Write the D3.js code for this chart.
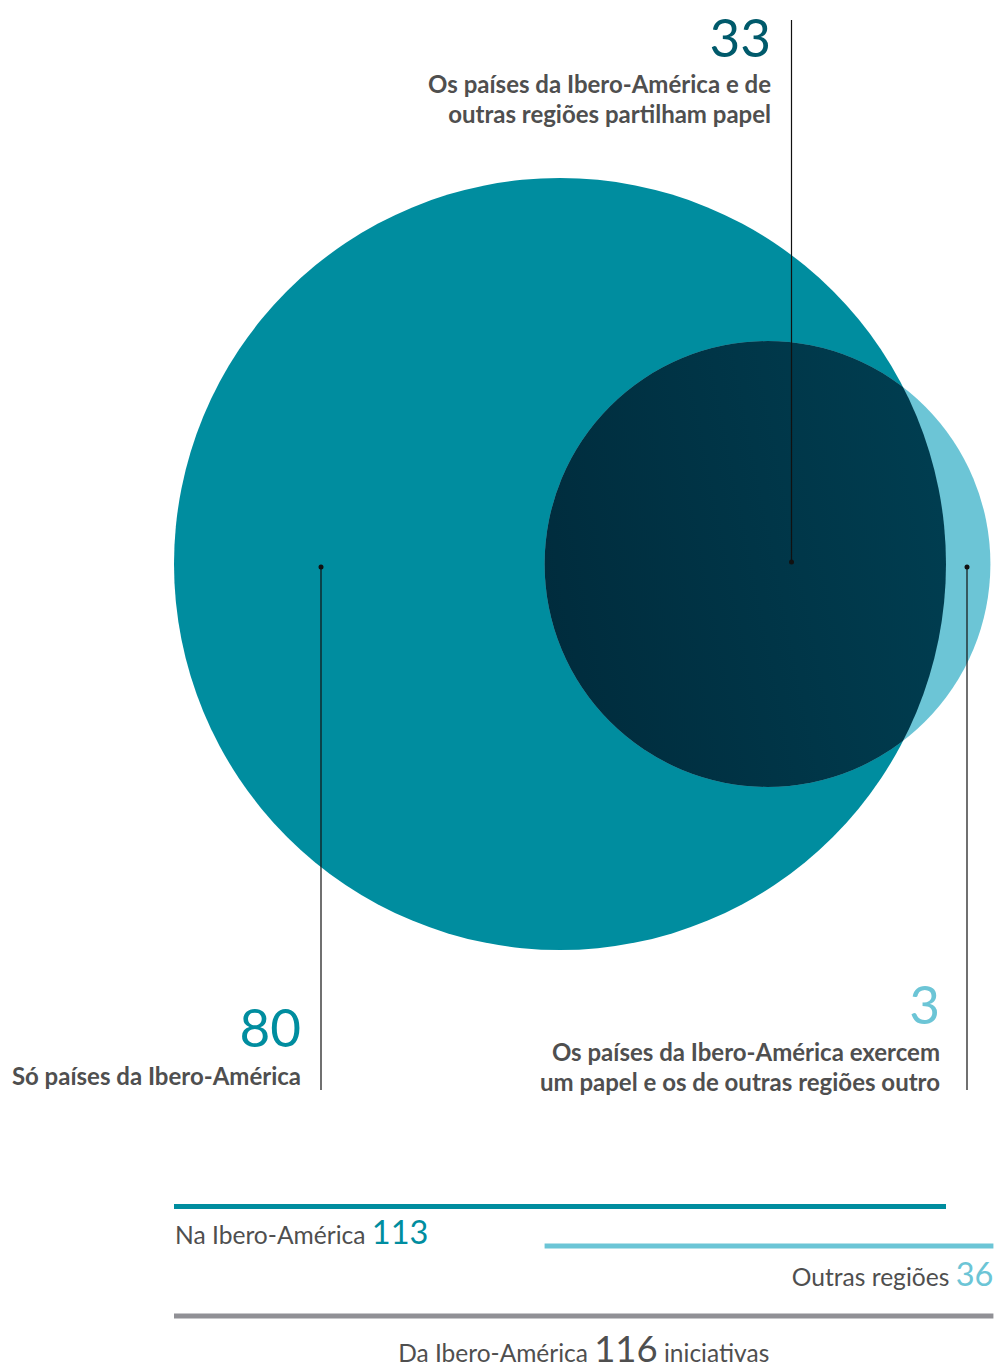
<!DOCTYPE html>
<html>
<head>
<meta charset="utf-8">
<script src="https://cdn.jsdelivr.net/npm/d3@7"></script>
<style>
  html, body { margin: 0; padding: 0; background: #fff; }
  svg { display: block; font-family: Lato, 'Open Sans', sans-serif; }
</style>
</head>
<body>
<div id="chart"></div>
<script>
// sets (circles) and their totals
const setNames = ['Na Ibero-América', 'Outras regiões'];
const setTotals = [113, 36];
const setColors = ['#008d9f', '#6cc5d6'];

// regions of the diagram
const regionValues = [80, 33, 3];
const regionLabels = [
  ['Só países da Ibero-América'],
  ['Os países da Ibero-América e de', 'outras regiões partilham papel'],
  ['Os países da Ibero-América exercem', 'um papel e os de outras regiões outro'],
];
const regionColors = ['#008d9f', '#005a6b', '#6cc5d6'];

const totalLabel = ['Da Ibero-América', 116, 'iniciativas'];

const width = 997;
const height = 1369;
const textGray = '#4f4f4f';

const svg = d3
  .select('#chart')
  .append('svg')
  .attr('width', width)
  .attr('height', height)
  .attr('viewBox', `0 0 ${width} ${height}`);

// circle radius from the set total
const r = d3.scalePow().exponent(0.48).domain([0, setTotals[0]]).range([0, 386]);

const cy = 564;
const circles = [
  { cx: 560, r: r(setTotals[0]) },
  { cx: 767.5, r: r(setTotals[1]) },
];

const defs = svg.append('defs');
defs
  .append('clipPath')
  .attr('id', 'bigClip')
  .append('circle')
  .attr('cx', circles[0].cx)
  .attr('cy', cy)
  .attr('r', circles[0].r);

const grad = defs
  .append('linearGradient')
  .attr('id', 'overlapGrad')
  .attr('x1', '0%')
  .attr('y1', '60%')
  .attr('x2', '100%')
  .attr('y2', '40%');
grad.append('stop').attr('offset', '0%').attr('stop-color', '#002c3d');
grad.append('stop').attr('offset', '100%').attr('stop-color', '#003f52');

// draw circles
svg
  .append('g')
  .selectAll('circle')
  .data(circles)
  .join('circle')
  .attr('cx', (d) => d.cx)
  .attr('cy', cy)
  .attr('r', (d) => d.r)
  .attr('fill', (d, i) => setColors[i]);

// overlap
svg
  .append('circle')
  .attr('cx', circles[1].cx)
  .attr('cy', cy)
  .attr('r', circles[1].r)
  .attr('clip-path', 'url(#bigClip)')
  .attr('fill', 'url(#overlapGrad)');

// annotations: leader line + dot + number + label
const annotations = [
  { x: 321, dotY: 567, lineEnd: 1090, textX: 301, numY: 1047, labelY: 1085 },
  { x: 791.5, dotY: 562, lineEnd: 20, textX: 771, numY: 57, labelY: 93 },
  { x: 967, dotY: 567, lineEnd: 1090, textX: 940, numY: 1024, labelY: 1061 },
];

annotations.forEach((a, i) => {
  const g = svg.append('g');
  g.append('line')
    .attr('x1', a.x)
    .attr('x2', a.x)
    .attr('y1', a.dotY)
    .attr('y2', a.lineEnd)
    .attr('stroke', '#111')
    .attr('stroke-width', 1.2);
  g.append('circle')
    .attr('cx', a.x)
    .attr('cy', a.dotY)
    .attr('r', 2.5)
    .attr('fill', '#111');

  g.append('text')
    .attr('x', a.textX)
    .attr('y', a.numY)
    .attr('text-anchor', 'end')
    .attr('fill', regionColors[i])
    .style('font-size', '53px')
    .style('font-weight', 400)
    .text(regionValues[i]);

  g.append('text')
    .attr('text-anchor', 'end')
    .attr('fill', textGray)
    .style('font-size', '24px')
    .style('font-weight', 700)
    .selectAll('tspan')
    .data(regionLabels[i])
    .join('tspan')
    .attr('x', a.textX)
    .attr('y', (d, j) => a.labelY + j * 29.5)
    .text((d) => d);
});

// bars below: extent of each circle and of the union
const bars = [
  { x1: circles[0].cx - circles[0].r, x2: circles[0].cx + circles[0].r, y: 1206.5, color: setColors[0] },
  { x1: circles[1].cx - circles[1].r, x2: circles[1].cx + circles[1].r + 3, y: 1246, color: setColors[1] },
  { x1: circles[0].cx - circles[0].r, x2: circles[1].cx + circles[1].r + 3, y: 1316, color: '#909095' },
];

svg
  .append('g')
  .selectAll('line')
  .data(bars)
  .join('line')
  .attr('x1', (d) => d.x1)
  .attr('x2', (d) => d.x2)
  .attr('y1', (d) => d.y)
  .attr('y2', (d) => d.y)
  .attr('stroke', (d) => d.color)
  .attr('stroke-width', 5);

// bar labels
const t1 = svg
  .append('text')
  .attr('x', bars[0].x1 + 1)
  .attr('y', 1244)
  .attr('fill', textGray)
  .style('font-size', '24.6px');
t1.append('tspan').text(setNames[0] + ' ');
t1.append('tspan')
  .attr('fill', setColors[0])
  .style('font-size', '32.5px')
  .text(setTotals[0]);

const t2 = svg
  .append('text')
  .attr('x', bars[1].x2)
  .attr('y', 1286)
  .attr('text-anchor', 'end')
  .attr('fill', textGray)
  .style('font-size', '24.6px');
t2.append('tspan').text(setNames[1] + ' ');
t2.append('tspan')
  .attr('fill', setColors[1])
  .style('font-size', '32.5px')
  .text(setTotals[1]);

const t3 = svg
  .append('text')
  .attr('x', (bars[2].x1 + bars[2].x2) / 2)
  .attr('y', 1362)
  .attr('text-anchor', 'middle')
  .attr('fill', textGray)
  .style('font-size', '24.5px');
t3.append('tspan').text(totalLabel[0] + ' ');
t3.append('tspan').style('font-size', '36.5px').text(totalLabel[1]);
t3.append('tspan').text(' ' + totalLabel[2]);
</script>
</body>
</html>
